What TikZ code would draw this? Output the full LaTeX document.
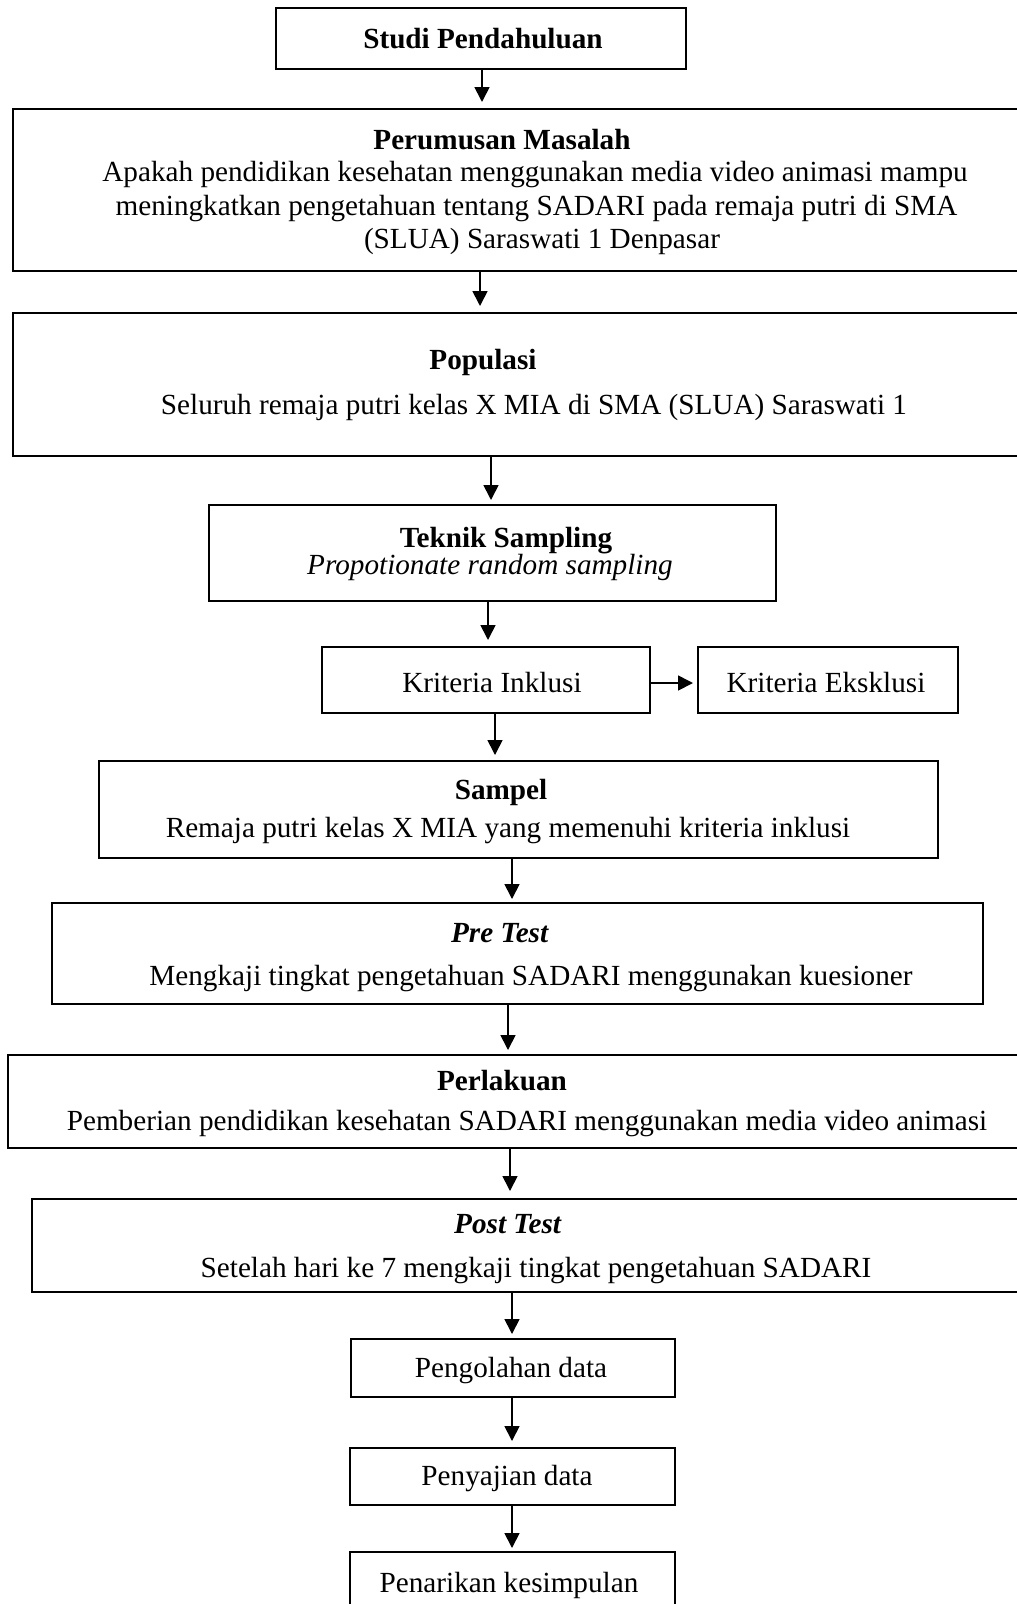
\documentclass[tikz,border=0pt]{standalone}
\usepackage{fontspec}
\setmainfont{Liberation Serif}
\usetikzlibrary{arrows.meta}
\begin{document}
\begin{tikzpicture}[x=1pt,y=-1pt,
  box/.style={draw, line width=2pt, inner sep=0pt, outer sep=0pt, rectangle},
  txt/.style={inner sep=0pt, anchor=base, font=\fontsize{29.2}{33.6}\selectfont},
  arr/.style={line width=1.7pt, -{Triangle[length=15pt,width=15pt]}}]
\useasboundingbox (0,0) rectangle (1017,1604);
\clip (0,0) rectangle (1017,1604);
% boxes
\node[box, minimum width=410pt, minimum height=61pt] (studi) at (481,38.5) {};
\node[box, minimum width=1017pt, minimum height=162pt] (perumusan) at (521.5,190) {};
\node[box, minimum width=1017pt, minimum height=143pt] (populasi) at (521.5,384.5) {};
\node[box, minimum width=567pt, minimum height=96pt] (teknik) at (492.5,553) {};
\node[box, minimum width=328pt, minimum height=66pt] (inklusi) at (486,680) {};
\node[box, minimum width=260pt, minimum height=66pt] (eksklusi) at (828,680) {};
\node[box, minimum width=839pt, minimum height=97pt] (sampel) at (518.5,809.5) {};
\node[box, minimum width=931pt, minimum height=101pt] (pretest) at (517.5,953.5) {};
\node[box, minimum width=1022pt, minimum height=93pt] (perlakuan) at (519,1101.5) {};
\node[box, minimum width=998pt, minimum height=93pt] (posttest) at (531,1245.5) {};
\node[box, minimum width=324pt, minimum height=58pt] (pengolahan) at (513,1368) {};
\node[box, minimum width=325pt, minimum height=57pt] (penyajian) at (512.5,1476.5) {};
\node[box, minimum width=325pt, minimum height=68pt] (penarikan) at (512.5,1586) {};
% texts
\node[txt] (t-studi) at (483,48) {\textbf{Studi Pendahuluan}};
\node[txt] (t-rm) at (502,149) {\textbf{Perumusan Masalah}};
\node[txt] (t-rm1) at (535,181) {Apakah pendidikan kesehatan menggunakan media video animasi mampu};
\node[txt] (t-rm2) at (536.5,215) {meningkatkan pengetahuan tentang SADARI pada remaja putri di SMA};
\node[txt] (t-rm3) at (542,248) {(SLUA) Saraswati 1 Denpasar};
\node[txt] (t-pop) at (483,369) {\textbf{Populasi}};
\node[txt] (t-pop1) at (534,414) {Seluruh remaja putri kelas X MIA di SMA (SLUA) Saraswati 1};
\node[txt] (t-tek) at (506,547) {\textbf{Teknik Sampling}};
\node[txt] (t-tek1) at (490,574) {\textit{Propotionate random sampling}};
\node[txt] (t-ink) at (492,692) {Kriteria Inklusi};
\node[txt] (t-eks) at (826,692) {Kriteria Eksklusi};
\node[txt] (t-sam) at (501,799) {\textbf{Sampel}};
\node[txt] (t-sam1) at (508,837) {Remaja putri kelas X MIA yang memenuhi kriteria inklusi};
\node[txt] (t-pre) at (500,942) {\textbf{\textit{Pre Test}}};
\node[txt] (t-pre1) at (531,985) {Mengkaji tingkat pengetahuan SADARI menggunakan kuesioner};
\node[txt] (t-per) at (502,1090) {\textbf{Perlakuan}};
\node[txt] (t-per1) at (527,1130) {Pemberian pendidikan kesehatan SADARI menggunakan media video animasi};
\node[txt] (t-post) at (508,1233) {\textbf{\textit{Post Test}}};
\node[txt] (t-post1) at (536,1277) {Setelah hari ke 7 mengkaji tingkat pengetahuan SADARI};
\node[txt] (t-peng) at (511,1377) {Pengolahan data};
\node[txt] (t-peny) at (507,1485) {Penyajian data};
\node[txt] (t-pena) at (509,1592) {Penarikan kesimpulan};
% arrows
\draw[arr, shorten >=7pt] ([xshift=1pt]studi.south) -- ([xshift=-39.5pt]perumusan.north);
\draw[arr, shorten >=7pt] ([xshift=-41.5pt]perumusan.south) -- ([xshift=-41.5pt]populasi.north);
\draw[arr, shorten >=5pt] ([xshift=-30.5pt]populasi.south) -- ([xshift=-1.5pt]teknik.north);
\draw[arr, shorten >=7pt] ([xshift=-4.5pt]teknik.south) -- ([xshift=2pt]inklusi.north);
\draw[arr, shorten >=6pt] ([xshift=9pt]inklusi.south) -- ([xshift=-23.5pt]sampel.north);
\draw[arr, shorten >=4pt] ([xshift=-6.5pt]sampel.south) -- ([xshift=-5.5pt]pretest.north);
\draw[arr, shorten >=5pt] ([xshift=-9.5pt]pretest.south) -- ([xshift=-11pt]perlakuan.north);
\draw[arr, shorten >=8pt] ([xshift=-9pt]perlakuan.south) -- ([xshift=-21pt]posttest.north);
\draw[arr, shorten >=5pt] ([xshift=-19pt]posttest.south) -- ([xshift=-1pt]pengolahan.north);
\draw[arr, shorten >=7pt] ([xshift=-1pt]pengolahan.south) -- ([xshift=-0.5pt]penyajian.north);
\draw[arr, shorten >=4pt] ([xshift=-0.5pt]penyajian.south) -- ([xshift=-0.5pt]penarikan.north);
\draw[arr, shorten >=5pt] ([yshift=-3pt]inklusi.east) -- ([yshift=-3pt]eksklusi.west);
\end{tikzpicture}
\end{document}
